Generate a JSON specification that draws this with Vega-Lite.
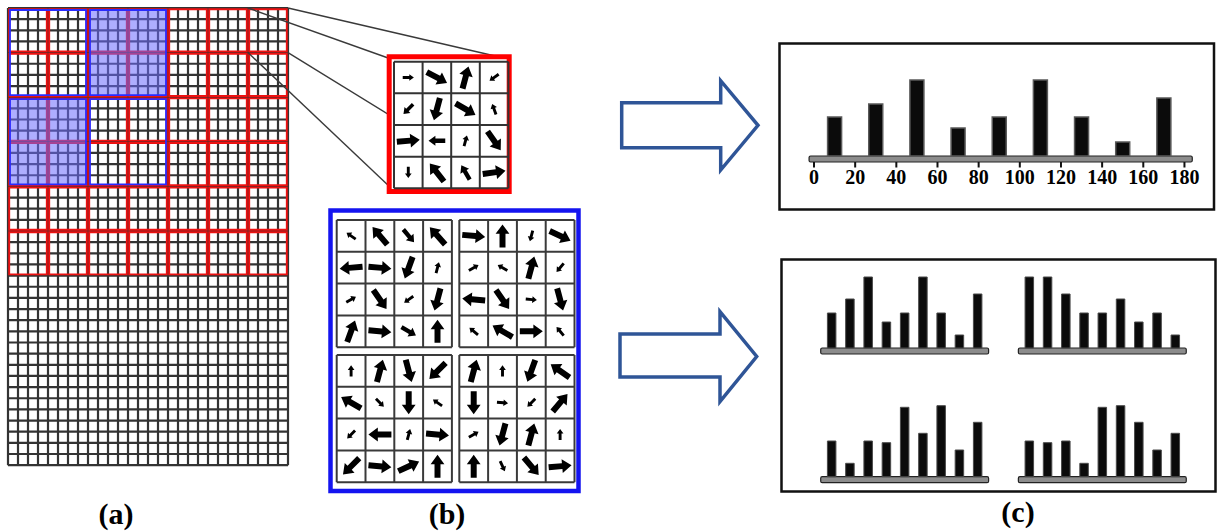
{
"$schema": "https://vega.github.io/schema/vega-lite/v6.json",
"width": 1219, "height": 531, "padding": 0, "autosize": {"type": "none"},
"background": "white",
"config": {"view": {"stroke": null}},
"datasets": {
"one": [{"id":1}],
"n29": [{"i":0},{"i":1},{"i":2},{"i":3},{"i":4},{"i":5},{"i":6},{"i":7},{"i":8},{"i":9},{"i":10},{"i":11},{"i":12},{"i":13},{"i":14},{"i":15},{"i":16},{"i":17},{"i":18},{"i":19},{"i":20},{"i":21},{"i":22},{"i":23},{"i":24},{"i":25},{"i":26},{"i":27},{"i":28}],
"n42": [{"j":0},{"j":1},{"j":2},{"j":3},{"j":4},{"j":5},{"j":6},{"j":7},{"j":8},{"j":9},{"j":10},{"j":11},{"j":12},{"j":13},{"j":14},{"j":15},{"j":16},{"j":17},{"j":18},{"j":19},{"j":20},{"j":21},{"j":22},{"j":23},{"j":24},{"j":25},{"j":26},{"j":27},{"j":28},{"j":29},{"j":30},{"j":31},{"j":32},{"j":33},{"j":34},{"j":35},{"j":36},{"j":37},{"j":38},{"j":39},{"j":40},{"j":41}],
"l5": [{"k":0},{"k":1},{"k":2},{"k":3},{"k":4}],
"cells": [
{"c":0,"r":0,"c2":1,"r2":1},{"c":1,"r":0,"c2":2,"r2":1},{"c":2,"r":0,"c2":3,"r2":1},{"c":3,"r":0,"c2":4,"r2":1},{"c":4,"r":0,"c2":5,"r2":1},{"c":5,"r":0,"c2":6,"r2":1},{"c":6,"r":0,"c2":7,"r2":1},
{"c":0,"r":1,"c2":1,"r2":2},{"c":1,"r":1,"c2":2,"r2":2},{"c":2,"r":1,"c2":3,"r2":2},{"c":3,"r":1,"c2":4,"r2":2},{"c":4,"r":1,"c2":5,"r2":2},{"c":5,"r":1,"c2":6,"r2":2},{"c":6,"r":1,"c2":7,"r2":2},
{"c":0,"r":2,"c2":1,"r2":3},{"c":1,"r":2,"c2":2,"r2":3},{"c":2,"r":2,"c2":3,"r2":3},{"c":3,"r":2,"c2":4,"r2":3},{"c":4,"r":2,"c2":5,"r2":3},{"c":5,"r":2,"c2":6,"r2":3},{"c":6,"r":2,"c2":7,"r2":3},
{"c":0,"r":3,"c2":1,"r2":4},{"c":1,"r":3,"c2":2,"r2":4},{"c":2,"r":3,"c2":3,"r2":4},{"c":3,"r":3,"c2":4,"r2":4},{"c":4,"r":3,"c2":5,"r2":4},{"c":5,"r":3,"c2":6,"r2":4},{"c":6,"r":3,"c2":7,"r2":4},
{"c":0,"r":4,"c2":1,"r2":5},{"c":1,"r":4,"c2":2,"r2":5},{"c":2,"r":4,"c2":3,"r2":5},{"c":3,"r":4,"c2":4,"r2":5},{"c":4,"r":4,"c2":5,"r2":5},{"c":5,"r":4,"c2":6,"r2":5},{"c":6,"r":4,"c2":7,"r2":5},
{"c":0,"r":5,"c2":1,"r2":6},{"c":1,"r":5,"c2":2,"r2":6},{"c":2,"r":5,"c2":3,"r2":6},{"c":3,"r":5,"c2":4,"r2":6},{"c":4,"r":5,"c2":5,"r2":6},{"c":5,"r":5,"c2":6,"r2":6},{"c":6,"r":5,"c2":7,"r2":6}
],
"blocks": [{"c":0,"r":0,"c2":2,"r2":2,"f":false},{"c":2,"r":0,"c2":4,"r2":2,"f":true},{"c":0,"r":2,"c2":2,"r2":4,"f":true},{"c":2,"r":2,"c2":4,"r2":4,"f":false}],
"conn": [{"x":248,"y":8,"x2":391,"y2":59},{"x":288,"y":8,"x2":508,"y2":59},{"x":248,"y":52.6,"x2":391,"y2":188},{"x":288,"y":52.6,"x2":508,"y2":188}],
"redArrows": [
{"r":0,"c":0,"a":90,"m":0.2},{"r":0,"c":1,"a":118,"m":0.85},{"r":0,"c":2,"a":15,"m":0.85},{"r":0,"c":3,"a":235,"m":0.2},
{"r":1,"c":0,"a":225,"m":0.3},{"r":1,"c":1,"a":195,"m":0.85},{"r":1,"c":2,"a":120,"m":0.85},{"r":1,"c":3,"a":340,"m":0.2},
{"r":2,"c":0,"a":85,"m":0.85},{"r":2,"c":1,"a":270,"m":0.45},{"r":2,"c":2,"a":15,"m":0.2},{"r":2,"c":3,"a":145,"m":0.85},
{"r":3,"c":0,"a":180,"m":0.2},{"r":3,"c":1,"a":322,"m":0.85},{"r":3,"c":2,"a":330,"m":0.45},{"r":3,"c":3,"a":82,"m":0.85}
],
"blueArrows": [
{"b":"TL","r":0,"c":0,"a":305,"m":0.2},{"b":"TL","r":0,"c":1,"a":320,"m":0.85},{"b":"TL","r":0,"c":2,"a":140,"m":0.45},{"b":"TL","r":0,"c":3,"a":318,"m":0.85},
{"b":"TL","r":1,"c":0,"a":265,"m":0.85},{"b":"TL","r":1,"c":1,"a":95,"m":0.85},{"b":"TL","r":1,"c":2,"a":200,"m":0.85},{"b":"TL","r":1,"c":3,"a":15,"m":0.2},
{"b":"TL","r":2,"c":0,"a":60,"m":0.2},{"b":"TL","r":2,"c":1,"a":145,"m":0.85},{"b":"TL","r":2,"c":2,"a":235,"m":0.2},{"b":"TL","r":2,"c":3,"a":195,"m":0.85},
{"b":"TL","r":3,"c":0,"a":20,"m":0.85},{"b":"TL","r":3,"c":1,"a":95,"m":0.85},{"b":"TL","r":3,"c":2,"a":120,"m":0.45},{"b":"TL","r":3,"c":3,"a":0,"m":0.85},
{"b":"TR","r":0,"c":0,"a":95,"m":0.85},{"b":"TR","r":0,"c":1,"a":0,"m":0.85},{"b":"TR","r":0,"c":2,"a":195,"m":0.2},{"b":"TR","r":0,"c":3,"a":115,"m":0.85},
{"b":"TR","r":1,"c":0,"a":60,"m":0.2},{"b":"TR","r":1,"c":1,"a":300,"m":0.2},{"b":"TR","r":1,"c":2,"a":15,"m":0.85},{"b":"TR","r":1,"c":3,"a":220,"m":0.2},
{"b":"TR","r":2,"c":0,"a":275,"m":0.85},{"b":"TR","r":2,"c":1,"a":145,"m":0.85},{"b":"TR","r":2,"c":2,"a":95,"m":0.2},{"b":"TR","r":2,"c":3,"a":165,"m":0.85},
{"b":"TR","r":3,"c":0,"a":310,"m":0.2},{"b":"TR","r":3,"c":1,"a":300,"m":0.85},{"b":"TR","r":3,"c":2,"a":90,"m":0.85},{"b":"TR","r":3,"c":3,"a":320,"m":0.2},
{"b":"BL","r":0,"c":0,"a":0,"m":0.2},{"b":"BL","r":0,"c":1,"a":15,"m":0.85},{"b":"BL","r":0,"c":2,"a":165,"m":0.85},{"b":"BL","r":0,"c":3,"a":225,"m":0.85},
{"b":"BL","r":1,"c":0,"a":300,"m":0.85},{"b":"BL","r":1,"c":1,"a":135,"m":0.2},{"b":"BL","r":1,"c":2,"a":180,"m":0.85},{"b":"BL","r":1,"c":3,"a":305,"m":0.2},
{"b":"BL","r":2,"c":0,"a":225,"m":0.2},{"b":"BL","r":2,"c":1,"a":270,"m":0.85},{"b":"BL","r":2,"c":2,"a":15,"m":0.2},{"b":"BL","r":2,"c":3,"a":95,"m":0.85},
{"b":"BL","r":3,"c":0,"a":225,"m":0.85},{"b":"BL","r":3,"c":1,"a":95,"m":0.85},{"b":"BL","r":3,"c":2,"a":65,"m":0.85},{"b":"BL","r":3,"c":3,"a":0,"m":0.85},
{"b":"BR","r":0,"c":0,"a":15,"m":0.85},{"b":"BR","r":0,"c":1,"a":0,"m":0.2},{"b":"BR","r":0,"c":2,"a":200,"m":0.85},{"b":"BR","r":0,"c":3,"a":305,"m":0.85},
{"b":"BR","r":1,"c":0,"a":180,"m":0.85},{"b":"BR","r":1,"c":1,"a":95,"m":0.2},{"b":"BR","r":1,"c":2,"a":225,"m":0.2},{"b":"BR","r":1,"c":3,"a":40,"m":0.85},
{"b":"BR","r":2,"c":0,"a":60,"m":0.2},{"b":"BR","r":2,"c":1,"a":195,"m":0.85},{"b":"BR","r":2,"c":2,"a":15,"m":0.85},{"b":"BR","r":2,"c":3,"a":0,"m":0.2},
{"b":"BR","r":3,"c":0,"a":0,"m":0.85},{"b":"BR","r":3,"c":1,"a":155,"m":0.2},{"b":"BR","r":3,"c":2,"a":140,"m":0.85},{"b":"BR","r":3,"c":3,"a":85,"m":0.85}
],
"hist": [{"bin":10,"h":39},{"bin":30,"h":52},{"bin":50,"h":76},{"bin":70,"h":28},{"bin":90,"h":39},{"bin":110,"h":76},{"bin":130,"h":39},{"bin":150,"h":14},{"bin":170,"h":58}],
"ticks": [{"v":0},{"v":20},{"v":40},{"v":60},{"v":80},{"v":100},{"v":120},{"v":140},{"v":160},{"v":180}],
"minis": [
{"p":"TL","k":0,"h":35},{"p":"TL","k":1,"h":49},{"p":"TL","k":2,"h":71},{"p":"TL","k":3,"h":26},{"p":"TL","k":4,"h":35},{"p":"TL","k":5,"h":71},{"p":"TL","k":6,"h":35},{"p":"TL","k":7,"h":13},{"p":"TL","k":8,"h":54},
{"p":"TR","k":0,"h":71},{"p":"TR","k":1,"h":71},{"p":"TR","k":2,"h":54},{"p":"TR","k":3,"h":35},{"p":"TR","k":4,"h":35},{"p":"TR","k":5,"h":49},{"p":"TR","k":6,"h":26},{"p":"TR","k":7,"h":35},{"p":"TR","k":8,"h":13},
{"p":"BL","k":0,"h":35.7},{"p":"BL","k":1,"h":13.4},{"p":"BL","k":2,"h":35.7},{"p":"BL","k":3,"h":34},{"p":"BL","k":4,"h":69.4},{"p":"BL","k":5,"h":43.4},{"p":"BL","k":6,"h":71},{"p":"BL","k":7,"h":26.7},{"p":"BL","k":8,"h":54.4},
{"p":"BR","k":0,"h":35.7},{"p":"BR","k":1,"h":34},{"p":"BR","k":2,"h":35.7},{"p":"BR","k":3,"h":13.4},{"p":"BR","k":4,"h":69.4},{"p":"BR","k":5,"h":71},{"p":"BR","k":6,"h":54.4},{"p":"BR","k":7,"h":26.7},{"p":"BR","k":8,"h":43.4}
],
"frames": [{"kind":"c","x0":779.5,"y0":43.5,"x1":1214,"y1":209.5},{"kind":"c","x0":781.5,"y0":259.5,"x1":1215.5,"y1":491.5},{"kind":"b","x0":330.5,"y0":210.5,"x1":578.5,"y1":491}],
"big": [
{"a":"top","o":0,"x":621.7,"y":102.7},{"a":"top","o":1,"x":720.7,"y":102.7},{"a":"top","o":2,"x":720.7,"y":80.7},{"a":"top","o":3,"x":758,"y":125.3},{"a":"top","o":4,"x":720.7,"y":170},{"a":"top","o":5,"x":720.7,"y":147.8},{"a":"top","o":6,"x":621.7,"y":147.8},{"a":"top","o":7,"x":621.7,"y":102.7},
{"a":"bot","o":0,"x":620,"y":334},{"a":"bot","o":1,"x":720,"y":334},{"a":"bot","o":2,"x":720,"y":311.7},{"a":"bot","o":3,"x":756.7,"y":356.5},{"a":"bot","o":4,"x":720,"y":401.5},{"a":"bot","o":5,"x":720,"y":377},{"a":"bot","o":6,"x":620,"y":377},{"a":"bot","o":7,"x":620,"y":334}
],
"labels": [{"t":"(a)","x":116,"y":524},{"t":"(b)","x":447,"y":524},{"t":"(c)","x":1018,"y":522}]
},
"layer": [
{"layer": [
 {"data":{"name":"n29"},"mark":{"type":"rule","color":"#333","strokeWidth":2.2},
  "encoding":{"x":{"field":"i","type":"quantitative","scale":{"domain":[-0.8,121.1],"nice":false,"zero":false},"axis":null},
   "y":{"datum":0,"type":"quantitative","scale":{"domain":[-0.7175,46.906],"nice":false,"zero":false,"reverse":true},"axis":null},"y2":{"datum":41}}},
 {"data":{"name":"n42"},"mark":{"type":"rule","color":"#333","strokeWidth":2.2},
  "encoding":{"y":{"field":"j","type":"quantitative","scale":{"domain":[-0.7175,46.906],"nice":false,"zero":false,"reverse":true},"axis":null},
   "x":{"datum":0,"type":"quantitative","scale":{"domain":[-0.8,121.1],"nice":false,"zero":false},"axis":null},"x2":{"datum":28}}}
]},
{"layer": [
 {"data":{"name":"cells"},"mark":{"type":"rect","filled":false,"stroke":"#ee1111","strokeWidth":1.9,"xOffset":1.2,"x2Offset":-1.2,"yOffset":1.2,"y2Offset":-1.2},
  "encoding":{"x":{"field":"c","type":"quantitative","scale":{"domain":[-0.2,30.275],"nice":false,"zero":false},"axis":null},"x2":{"field":"c2"},
   "y":{"field":"r","type":"quantitative","scale":{"domain":[-0.17937,11.7265],"nice":false,"zero":false,"reverse":true},"axis":null},"y2":{"field":"r2"}}},
 {"data":{"name":"blocks"},"transform":[{"filter":"datum.f"}],"mark":{"type":"rect","fill":"#6b6bff","fillOpacity":0.55,"xOffset":2,"x2Offset":-2,"yOffset":2,"y2Offset":-2},
  "encoding":{"x":{"field":"c","type":"quantitative","scale":{"domain":[-0.2,30.275],"nice":false,"zero":false},"axis":null},"x2":{"field":"c2"},
   "y":{"field":"r","type":"quantitative","scale":{"domain":[-0.17937,11.7265],"nice":false,"zero":false,"reverse":true},"axis":null},"y2":{"field":"r2"}}},
 {"data":{"name":"blocks"},"mark":{"type":"rect","filled":false,"stroke":"#2a2aff","strokeWidth":1.8,"xOffset":2,"x2Offset":-2,"yOffset":2,"y2Offset":-2},
  "encoding":{"x":{"field":"c","type":"quantitative","scale":{"domain":[-0.2,30.275],"nice":false,"zero":false},"axis":null},"x2":{"field":"c2"},
   "y":{"field":"r","type":"quantitative","scale":{"domain":[-0.17937,11.7265],"nice":false,"zero":false,"reverse":true},"axis":null},"y2":{"field":"r2"}}}
]},
{"layer": [
 {"data":{"name":"conn"},"mark":{"type":"rule","color":"#3a3a3a","strokeWidth":1.4},
  "encoding":{"x":{"field":"x","type":"quantitative","scale":{"domain":[0,1219],"nice":false,"zero":false},"axis":null},"x2":{"field":"x2"},
   "y":{"field":"y","type":"quantitative","scale":{"domain":[0,531],"nice":false,"zero":false,"reverse":true},"axis":null},"y2":{"field":"y2"}}}
]},
{"layer": [
 {"data":{"name":"one"},"mark":{"type":"rect","fill":"white","stroke":"#ff0000","strokeWidth":5},
  "encoding":{"x":{"datum":-0.168,"type":"quantitative","scale":{"domain":[-13.776,28.846],"nice":false,"zero":false},"axis":null},"x2":{"datum":4.028},
   "y":{"datum":-0.155,"type":"quantitative","scale":{"domain":[-1.9494,14.8278],"nice":false,"zero":false,"reverse":true},"axis":null},"y2":{"datum":4.101}}},
 {"data":{"name":"l5"},"mark":{"type":"rule","color":"#333","strokeWidth":2},
  "encoding":{"x":{"field":"k","type":"quantitative","scale":{"domain":[-13.776,28.846],"nice":false,"zero":false},"axis":null},
   "y":{"datum":0,"type":"quantitative","scale":{"domain":[-1.9494,14.8278],"nice":false,"zero":false,"reverse":true},"axis":null},"y2":{"datum":4}}},
 {"data":{"name":"l5"},"mark":{"type":"rule","color":"#333","strokeWidth":2},
  "encoding":{"y":{"field":"k","type":"quantitative","scale":{"domain":[-1.9494,14.8278],"nice":false,"zero":false,"reverse":true},"axis":null},
   "x":{"datum":0,"type":"quantitative","scale":{"domain":[-13.776,28.846],"nice":false,"zero":false},"axis":null},"x2":{"datum":4}}},
 {"data":{"name":"redArrows"},"mark":{"type":"point","shape":"M-0.26,1L0.26,1L0.26,-0.18L0.6,-0.18L0,-1L-0.6,-0.18L-0.26,-0.18Z","filled":true,"color":"#000","opacity":1,"xOffset":14.3,"yOffset":15.8},
  "encoding":{"x":{"field":"c","type":"quantitative","scale":{"domain":[-13.776,28.846],"nice":false,"zero":false},"axis":null},
   "y":{"field":"r","type":"quantitative","scale":{"domain":[-1.9494,14.8278],"nice":false,"zero":false,"reverse":true},"axis":null},
   "size":{"field":"m","type":"quantitative","scale":{"domain":[0,1],"range":[0,622]},"legend":null},
   "angle":{"field":"a","type":"quantitative","scale":{"domain":[0,360],"range":[0,360]},"legend":null}}}
]},
{"layer": [
 {"data":{"name":"l5"},"mark":{"type":"rule","color":"#3a3a3a","strokeWidth":2},
  "encoding":{"x":{"field":"k","type":"quantitative","scale":{"domain":[-11.691,30.635],"nice":false,"zero":false},"axis":null},
   "y":{"datum":0,"type":"quantitative","scale":{"domain":[-6.918,9.780],"nice":false,"zero":false,"reverse":true},"axis":null},"y2":{"datum":4}}},
 {"data":{"name":"l5"},"mark":{"type":"rule","color":"#3a3a3a","strokeWidth":2},
  "encoding":{"y":{"field":"k","type":"quantitative","scale":{"domain":[-6.918,9.780],"nice":false,"zero":false,"reverse":true},"axis":null},
   "x":{"datum":0,"type":"quantitative","scale":{"domain":[-11.691,30.635],"nice":false,"zero":false},"axis":null},"x2":{"datum":4}}},
 {"data":{"name":"blueArrows"},"transform":[{"filter":"datum.b==='TL'"}],"mark":{"type":"point","shape":"M-0.26,1L0.26,1L0.26,-0.18L0.6,-0.18L0,-1L-0.6,-0.18L-0.26,-0.18Z","filled":true,"color":"#000","opacity":1,"xOffset":14.4,"yOffset":15.9},
  "encoding":{"x":{"field":"c","type":"quantitative","scale":{"domain":[-11.691,30.635],"nice":false,"zero":false},"axis":null},
   "y":{"field":"r","type":"quantitative","scale":{"domain":[-6.918,9.780],"nice":false,"zero":false,"reverse":true},"axis":null},
   "size":{"field":"m","type":"quantitative","scale":{"domain":[0,1],"range":[0,622]},"legend":null},
   "angle":{"field":"a","type":"quantitative","scale":{"domain":[0,360],"range":[0,360]},"legend":null}}}
]},
{"layer": [
 {"data":{"name":"l5"},"mark":{"type":"rule","color":"#3a3a3a","strokeWidth":2},
  "encoding":{"x":{"field":"k","type":"quantitative","scale":{"domain":[-15.948,26.378],"nice":false,"zero":false},"axis":null},
   "y":{"datum":0,"type":"quantitative","scale":{"domain":[-6.918,9.780],"nice":false,"zero":false,"reverse":true},"axis":null},"y2":{"datum":4}}},
 {"data":{"name":"l5"},"mark":{"type":"rule","color":"#3a3a3a","strokeWidth":2},
  "encoding":{"y":{"field":"k","type":"quantitative","scale":{"domain":[-6.918,9.780],"nice":false,"zero":false,"reverse":true},"axis":null},
   "x":{"datum":0,"type":"quantitative","scale":{"domain":[-15.948,26.378],"nice":false,"zero":false},"axis":null},"x2":{"datum":4}}},
 {"data":{"name":"blueArrows"},"transform":[{"filter":"datum.b==='TR'"}],"mark":{"type":"point","shape":"M-0.26,1L0.26,1L0.26,-0.18L0.6,-0.18L0,-1L-0.6,-0.18L-0.26,-0.18Z","filled":true,"color":"#000","opacity":1,"xOffset":14.4,"yOffset":15.9},
  "encoding":{"x":{"field":"c","type":"quantitative","scale":{"domain":[-15.948,26.378],"nice":false,"zero":false},"axis":null},
   "y":{"field":"r","type":"quantitative","scale":{"domain":[-6.918,9.780],"nice":false,"zero":false,"reverse":true},"axis":null},
   "size":{"field":"m","type":"quantitative","scale":{"domain":[0,1],"range":[0,622]},"legend":null},
   "angle":{"field":"a","type":"quantitative","scale":{"domain":[0,360],"range":[0,360]},"legend":null}}}
]},
{"layer": [
 {"data":{"name":"l5"},"mark":{"type":"rule","color":"#3a3a3a","strokeWidth":2},
  "encoding":{"x":{"field":"k","type":"quantitative","scale":{"domain":[-11.691,30.635],"nice":false,"zero":false},"axis":null},
   "y":{"datum":0,"type":"quantitative","scale":{"domain":[-11.164,5.535],"nice":false,"zero":false,"reverse":true},"axis":null},"y2":{"datum":4}}},
 {"data":{"name":"l5"},"mark":{"type":"rule","color":"#3a3a3a","strokeWidth":2},
  "encoding":{"y":{"field":"k","type":"quantitative","scale":{"domain":[-11.164,5.535],"nice":false,"zero":false,"reverse":true},"axis":null},
   "x":{"datum":0,"type":"quantitative","scale":{"domain":[-11.691,30.635],"nice":false,"zero":false},"axis":null},"x2":{"datum":4}}},
 {"data":{"name":"blueArrows"},"transform":[{"filter":"datum.b==='BL'"}],"mark":{"type":"point","shape":"M-0.26,1L0.26,1L0.26,-0.18L0.6,-0.18L0,-1L-0.6,-0.18L-0.26,-0.18Z","filled":true,"color":"#000","opacity":1,"xOffset":14.4,"yOffset":15.9},
  "encoding":{"x":{"field":"c","type":"quantitative","scale":{"domain":[-11.691,30.635],"nice":false,"zero":false},"axis":null},
   "y":{"field":"r","type":"quantitative","scale":{"domain":[-11.164,5.535],"nice":false,"zero":false,"reverse":true},"axis":null},
   "size":{"field":"m","type":"quantitative","scale":{"domain":[0,1],"range":[0,622]},"legend":null},
   "angle":{"field":"a","type":"quantitative","scale":{"domain":[0,360],"range":[0,360]},"legend":null}}}
]},
{"layer": [
 {"data":{"name":"l5"},"mark":{"type":"rule","color":"#3a3a3a","strokeWidth":2},
  "encoding":{"x":{"field":"k","type":"quantitative","scale":{"domain":[-15.948,26.378],"nice":false,"zero":false},"axis":null},
   "y":{"datum":0,"type":"quantitative","scale":{"domain":[-11.164,5.535],"nice":false,"zero":false,"reverse":true},"axis":null},"y2":{"datum":4}}},
 {"data":{"name":"l5"},"mark":{"type":"rule","color":"#3a3a3a","strokeWidth":2},
  "encoding":{"y":{"field":"k","type":"quantitative","scale":{"domain":[-11.164,5.535],"nice":false,"zero":false,"reverse":true},"axis":null},
   "x":{"datum":0,"type":"quantitative","scale":{"domain":[-15.948,26.378],"nice":false,"zero":false},"axis":null},"x2":{"datum":4}}},
 {"data":{"name":"blueArrows"},"transform":[{"filter":"datum.b==='BR'"}],"mark":{"type":"point","shape":"M-0.26,1L0.26,1L0.26,-0.18L0.6,-0.18L0,-1L-0.6,-0.18L-0.26,-0.18Z","filled":true,"color":"#000","opacity":1,"xOffset":14.4,"yOffset":15.9},
  "encoding":{"x":{"field":"c","type":"quantitative","scale":{"domain":[-15.948,26.378],"nice":false,"zero":false},"axis":null},
   "y":{"field":"r","type":"quantitative","scale":{"domain":[-11.164,5.535],"nice":false,"zero":false,"reverse":true},"axis":null},
   "size":{"field":"m","type":"quantitative","scale":{"domain":[0,1],"range":[0,622]},"legend":null},
   "angle":{"field":"a","type":"quantitative","scale":{"domain":[0,360],"range":[0,360]},"legend":null}}}
]},
{"layer": [
 {"data":{"name":"one"},"mark":{"type":"rect","fill":"#8c8c8c","stroke":"#222","strokeWidth":1.2,"cornerRadius":1.5},
  "encoding":{"x":{"datum":-2.4,"type":"quantitative","scale":{"domain":[-393.11,194.36],"nice":false,"zero":false},"axis":null},"x2":{"datum":183.8},
   "y":{"datum":0,"type":"quantitative","scale":{"domain":[-375,156],"nice":false,"zero":false},"axis":null},"y2":{"datum":-6}}},
 {"data":{"name":"hist"},"mark":{"type":"bar","size":14,"fill":"#0b0b0b","stroke":"#5a5a5a","strokeWidth":1.5},
  "encoding":{"x":{"field":"bin","type":"quantitative","scale":{"domain":[-393.11,194.36],"nice":false,"zero":false},"axis":null},
   "y":{"field":"h","type":"quantitative","scale":{"domain":[-375,156],"nice":false,"zero":false},"axis":null},"y2":{"datum":0}}},
 {"data":{"name":"ticks"},"mark":{"type":"rule","color":"#111","strokeWidth":2},
  "encoding":{"x":{"field":"v","type":"quantitative","scale":{"domain":[-393.11,194.36],"nice":false,"zero":false},"axis":null},
   "y":{"datum":-6,"type":"quantitative","scale":{"domain":[-375,156],"nice":false,"zero":false},"axis":null},"y2":{"datum":-11.5}}},
 {"data":{"name":"ticks"},"mark":{"type":"text","font":"Liberation Serif","fontWeight":"bold","fontSize":20,"baseline":"alphabetic","align":"center","color":"#000"},
  "encoding":{"x":{"field":"v","type":"quantitative","scale":{"domain":[-393.11,194.36],"nice":false,"zero":false},"axis":null},
   "y":{"datum":-27.5,"type":"quantitative","scale":{"domain":[-375,156],"nice":false,"zero":false},"axis":null},"text":{"field":"v","type":"nominal"}}}
]},
{"layer": [
 {"data":{"name":"one"},"mark":{"type":"rect","fill":"#8c8c8c","stroke":"#222","strokeWidth":1.2,"cornerRadius":1.5},
  "encoding":{"x":{"datum":-0.6,"type":"quantitative","scale":{"domain":[-45.299,20.951],"nice":false,"zero":false},"axis":null},"x2":{"datum":8.6},
   "y":{"datum":0,"type":"quantitative","scale":{"domain":[-183,348],"nice":false,"zero":false},"axis":null},"y2":{"datum":-6}}},
 {"data":{"name":"minis"},"transform":[{"filter":"datum.p==='TL'"}],"mark":{"type":"bar","size":8.5,"fill":"#0b0b0b","stroke":"#4a4a4a","strokeWidth":1},
  "encoding":{"x":{"field":"k","type":"quantitative","scale":{"domain":[-45.299,20.951],"nice":false,"zero":false},"axis":null},
   "y":{"field":"h","type":"quantitative","scale":{"domain":[-183,348],"nice":false,"zero":false},"axis":null},"y2":{"datum":0}}}
]},
{"layer": [
 {"data":{"name":"one"},"mark":{"type":"rect","fill":"#8c8c8c","stroke":"#222","strokeWidth":1.2,"cornerRadius":1.5},
  "encoding":{"x":{"datum":-0.6,"type":"quantitative","scale":{"domain":[-56.130,10.120],"nice":false,"zero":false},"axis":null},"x2":{"datum":8.6},
   "y":{"datum":0,"type":"quantitative","scale":{"domain":[-183,348],"nice":false,"zero":false},"axis":null},"y2":{"datum":-6}}},
 {"data":{"name":"minis"},"transform":[{"filter":"datum.p==='TR'"}],"mark":{"type":"bar","size":8.5,"fill":"#0b0b0b","stroke":"#4a4a4a","strokeWidth":1},
  "encoding":{"x":{"field":"k","type":"quantitative","scale":{"domain":[-56.130,10.120],"nice":false,"zero":false},"axis":null},
   "y":{"field":"h","type":"quantitative","scale":{"domain":[-183,348],"nice":false,"zero":false},"axis":null},"y2":{"datum":0}}}
]},
{"layer": [
 {"data":{"name":"one"},"mark":{"type":"rect","fill":"#8c8c8c","stroke":"#222","strokeWidth":1.2,"cornerRadius":1.5},
  "encoding":{"x":{"datum":-0.6,"type":"quantitative","scale":{"domain":[-45.299,20.951],"nice":false,"zero":false},"axis":null},"x2":{"datum":8.6},
   "y":{"datum":0,"type":"quantitative","scale":{"domain":[-54.3,476.7],"nice":false,"zero":false},"axis":null},"y2":{"datum":-6}}},
 {"data":{"name":"minis"},"transform":[{"filter":"datum.p==='BL'"}],"mark":{"type":"bar","size":8.5,"fill":"#0b0b0b","stroke":"#4a4a4a","strokeWidth":1},
  "encoding":{"x":{"field":"k","type":"quantitative","scale":{"domain":[-45.299,20.951],"nice":false,"zero":false},"axis":null},
   "y":{"field":"h","type":"quantitative","scale":{"domain":[-54.3,476.7],"nice":false,"zero":false},"axis":null},"y2":{"datum":0}}}
]},
{"layer": [
 {"data":{"name":"one"},"mark":{"type":"rect","fill":"#8c8c8c","stroke":"#222","strokeWidth":1.2,"cornerRadius":1.5},
  "encoding":{"x":{"datum":-0.6,"type":"quantitative","scale":{"domain":[-56.130,10.120],"nice":false,"zero":false},"axis":null},"x2":{"datum":8.6},
   "y":{"datum":0,"type":"quantitative","scale":{"domain":[-54.3,476.7],"nice":false,"zero":false},"axis":null},"y2":{"datum":-6}}},
 {"data":{"name":"minis"},"transform":[{"filter":"datum.p==='BR'"}],"mark":{"type":"bar","size":8.5,"fill":"#0b0b0b","stroke":"#4a4a4a","strokeWidth":1},
  "encoding":{"x":{"field":"k","type":"quantitative","scale":{"domain":[-56.130,10.120],"nice":false,"zero":false},"axis":null},
   "y":{"field":"h","type":"quantitative","scale":{"domain":[-54.3,476.7],"nice":false,"zero":false},"axis":null},"y2":{"datum":0}}}
]},
{"layer": [
 {"data":{"name":"frames"},"transform":[{"filter":"datum.kind==='c'"}],"mark":{"type":"rect","filled":false,"stroke":"#111","strokeWidth":2.5},
  "encoding":{"x":{"field":"x0","type":"quantitative","scale":{"domain":[0,1219],"nice":false,"zero":false},"axis":null},"x2":{"field":"x1"},
   "y":{"field":"y0","type":"quantitative","scale":{"domain":[0,531],"nice":false,"zero":false,"reverse":true},"axis":null},"y2":{"field":"y1"}}},
 {"data":{"name":"frames"},"transform":[{"filter":"datum.kind==='b'"}],"mark":{"type":"rect","filled":false,"stroke":"#1414f0","strokeWidth":4.5},
  "encoding":{"x":{"field":"x0","type":"quantitative","scale":{"domain":[0,1219],"nice":false,"zero":false},"axis":null},"x2":{"field":"x1"},
   "y":{"field":"y0","type":"quantitative","scale":{"domain":[0,531],"nice":false,"zero":false,"reverse":true},"axis":null},"y2":{"field":"y1"}}},
 {"data":{"name":"big"},"mark":{"type":"line","color":"#2f5597","strokeWidth":3.5,"strokeJoin":"miter","strokeCap":"square"},
  "encoding":{"x":{"field":"x","type":"quantitative","scale":{"domain":[0,1219],"nice":false,"zero":false},"axis":null},
   "y":{"field":"y","type":"quantitative","scale":{"domain":[0,531],"nice":false,"zero":false,"reverse":true},"axis":null},
   "order":{"field":"o","type":"quantitative"},"detail":{"field":"a","type":"nominal"}}},
 {"data":{"name":"labels"},"mark":{"type":"text","font":"Liberation Serif","fontWeight":"bold","fontSize":30,"baseline":"alphabetic","align":"center","color":"#000"},
  "encoding":{"x":{"field":"x","type":"quantitative","scale":{"domain":[0,1219],"nice":false,"zero":false},"axis":null},
   "y":{"field":"y","type":"quantitative","scale":{"domain":[0,531],"nice":false,"zero":false,"reverse":true},"axis":null},
   "text":{"field":"t","type":"nominal"}}}
]}
],
"resolve": {"scale": {"x": "independent", "y": "independent"}}
}
